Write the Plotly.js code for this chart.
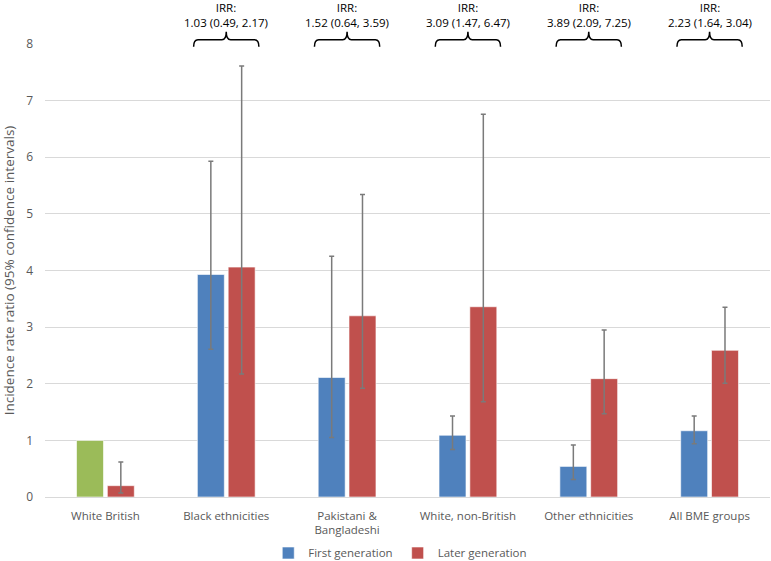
<!DOCTYPE html>
<html>
<head>
<meta charset="utf-8">
<script src="https://cdn.plot.ly/plotly-3.0.1.min.js"></script>
<style>html,body{margin:0;padding:0;background:#fff;}#chart{width:771px;height:561px;}</style>
</head>
<body>
<div id="chart"></div>
<script>
// ---- Data ----
var categories = ['White British', 'Black ethnicities', 'Pakistani &<br>Bangladeshi', 'White, non-British', 'Other ethnicities', 'All BME groups'];
var referenceGroup = [1, null, null, null, null, null];
var firstGen = [null, 3.93, 2.11, 1.09, 0.54, 1.17];
var firstLow = [null, 2.61, 1.05, 0.84, 0.31, 0.94];
var firstHigh = [null, 5.93, 4.25, 1.43, 0.92, 1.43];
var laterGen = [0.20, 4.06, 3.20, 3.36, 2.09, 2.59];
var laterLow = [0.07, 2.17, 1.92, 1.68, 1.47, 2.01];
var laterHigh = [0.62, 7.61, 5.34, 6.76, 2.95, 3.35];
var irrCategoryIndex = [1, 2, 3, 4, 5];
var irrLabels = ['1.03 (0.49, 2.17)', '1.52 (0.64, 3.59)', '3.09 (1.47, 6.47)', '3.89 (2.09, 7.25)', '2.23 (1.64, 3.04)'];

function plus(v, hi) { return v.map(function (x, i) { return x == null ? null : hi[i] - x; }); }
function minus(v, lo) { return v.map(function (x, i) { return x == null ? null : x - lo[i]; }); }

var FONT = 'Open Sans, sans-serif';
var errStyle = { color: '#7a7a7a', thickness: 1.5, width: 2.5 };

var traces = [
  {
    type: 'bar', x: categories, y: referenceGroup, name: 'Reference',
    offsetgroup: 'first', showlegend: false,
    marker: { color: '#9BBB59', line: { color: 'rgba(255,255,255,0.6)', width: 1 } },
    hoverinfo: 'skip'
  },
  {
    type: 'bar', x: categories, y: firstGen, name: 'First generation',
    offsetgroup: 'first',
    marker: { color: '#4F81BD', line: { color: 'rgba(255,255,255,0.6)', width: 1 } },
    error_y: Object.assign({ type: 'data', symmetric: false, array: plus(firstGen, firstHigh), arrayminus: minus(firstGen, firstLow) }, errStyle)
  },
  {
    type: 'bar', x: categories, y: laterGen, name: 'Later generation',
    offsetgroup: 'later',
    marker: { color: '#C0504D', line: { color: 'rgba(255,255,255,0.6)', width: 1 } },
    error_y: Object.assign({ type: 'data', symmetric: false, array: plus(laterGen, laterHigh), arrayminus: minus(laterGen, laterLow) }, errStyle)
  }
];

var nCat = categories.length;
function paperX(idx) { return (idx + 0.5) / nCat; }
var shapes = [], annotations = [];
var half = 0.27 / nCat, r = 0.006;
var yLine = 1.0095, yEnd = 0.994, yTip = 1.027;
irrCategoryIndex.forEach(function (idx, k) {
  var xm = paperX(idx), x0 = xm - half, x1 = xm + half;
  var p = 'M' + x0 + ',' + yEnd +
    ' Q' + x0 + ',' + yLine + ' ' + (x0 + r) + ',' + yLine +
    ' L' + (xm - r) + ',' + yLine +
    ' Q' + xm + ',' + yLine + ' ' + xm + ',' + yTip +
    ' Q' + xm + ',' + yLine + ' ' + (xm + r) + ',' + yLine +
    ' L' + (x1 - r) + ',' + yLine +
    ' Q' + x1 + ',' + yLine + ' ' + x1 + ',' + yEnd;
  shapes.push({ type: 'path', xref: 'paper', yref: 'paper', path: p, line: { color: '#000', width: 1.5 } });
  annotations.push({
    xref: 'x', yref: 'paper', x: idx, y: 1.0276, yanchor: 'bottom', showarrow: false, borderpad: 0,
    text: 'IRR:<br>' + irrLabels[k], font: { family: FONT, size: 11.5, color: '#000' }
  });
});

var layout = {
  width: 771, height: 561,
  margin: { l: 45, r: 1, t: 44, b: 64, autoexpand: false },
  paper_bgcolor: '#fff', plot_bgcolor: '#fff',
  barmode: 'group', bargap: 0.49, bargroupgap: 0.125,
  font: { family: FONT, size: 11.5, color: '#595959' },
  xaxis: {
    type: 'category', showgrid: false, showline: false, zeroline: false, automargin: false,
    tickfont: { family: FONT, size: 11.5, color: '#595959' }, ticks: '', ticklabelstandoff: 10
  },
  yaxis: {
    range: [0, 8], dtick: 1, showgrid: true, gridcolor: '#D9D9D9', gridwidth: 1, automargin: false,
    zeroline: true, zerolinecolor: '#D9D9D9', zerolinewidth: 1, showline: false,
    ticks: '', ticklabelstandoff: 11,
    tickfont: { family: FONT, size: 12, color: '#595959' },
    title: { text: 'Incidence rate ratio (95% confidence intervals)', font: { family: FONT, size: 13.5, color: '#595959' } }
  },
  legend: {
    orientation: 'h', x: 0.49, xanchor: 'center', y: -0.1236, yanchor: 'middle',
    font: { family: FONT, size: 11.5, color: '#595959' }, itemwidth: 30, traceorder: 'normal'
  },
  shapes: shapes, annotations: annotations,
  showlegend: true
};

Plotly.newPlot('chart', traces, layout, { displayModeBar: false, staticPlot: true });
</script>
</body>
</html>
